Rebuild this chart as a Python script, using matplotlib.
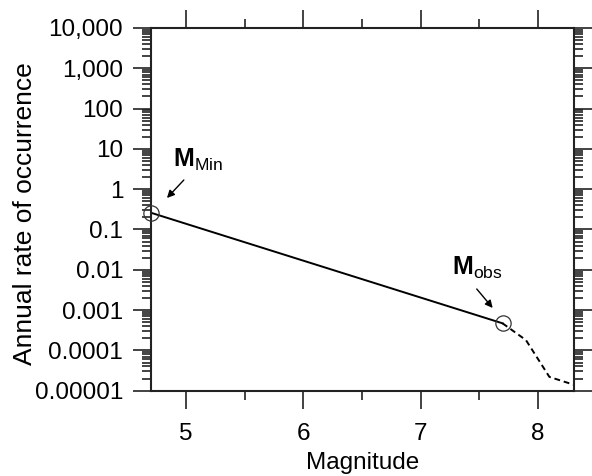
import matplotlib
matplotlib.use("Agg")
import matplotlib.pyplot as plt
from matplotlib.ticker import LogLocator, FixedLocator, FixedFormatter, NullFormatter

plt.rcParams['font.family'] = ['Liberation Sans', 'DejaVu Sans']
plt.rcParams['mathtext.fontset'] = 'custom'
plt.rcParams['mathtext.rm'] = 'Liberation Sans'
plt.rcParams['mathtext.bf'] = 'Liberation Sans:bold'

# Data
solid_mag = [4.70, 7.70]
solid_rate = [0.26, 0.00047]
dash_mag = [7.70, 7.90, 8.10, 8.31]
dash_rate = [0.00047, 0.00018, 0.000022, 0.000014]
circle_mag = [4.70, 7.70]
circle_rate = [0.26, 0.00047]
ytick_vals = [1e-5, 1e-4, 1e-3, 1e-2, 1e-1, 1, 10, 100, 1000, 10000]
ytick_labels = ["0.00001", "0.0001", "0.001", "0.01", "0.1", "1", "10", "100", "1,000", "10,000"]
xtick_major = [5, 6, 7, 8]
xtick_minor = [5.5, 6.5, 7.5]

fig = plt.figure(figsize=(5.92, 4.76), dpi=100)
ax = fig.add_axes([0.2551, 0.1792, 0.9696 - 0.2551, 0.9412 - 0.1792])

ax.plot(solid_mag, solid_rate, color='black', lw=1.4)
ax.plot(dash_mag, dash_rate, color='black', lw=1.4, ls=(0, (3, 2)))
ax.plot(circle_mag, circle_rate, ls='none', marker='o', ms=11, mfc='none',
        mec='#333333', mew=0.9, clip_on=False, zorder=5)

ax.set_yscale('log')
ax.set_xlim(4.7, 8.31)
ax.set_ylim(1e-5, 1e4)

ax.yaxis.set_major_locator(FixedLocator(ytick_vals))
ax.yaxis.set_major_formatter(FixedFormatter(ytick_labels))
ax.yaxis.set_minor_locator(LogLocator(base=10, subs=range(2, 10), numticks=20))
ax.yaxis.set_minor_formatter(NullFormatter())
ax.xaxis.set_major_locator(FixedLocator(xtick_major))
ax.xaxis.set_minor_locator(FixedLocator(xtick_minor))

ax.tick_params(which='both', direction='out', top=True, right=True,
               labeltop=False, labelright=False, width=1.2, color='#222222')
ax.tick_params(which='major', length=13, labelsize=17.5)
ax.tick_params(axis='y', which='major', pad=7)
ax.tick_params(axis='x', which='major', pad=10)
ax.tick_params(which='minor', length=6.5)

for s in ax.spines.values():
    s.set_linewidth(1.5)
    s.set_color('#222222')

ax.set_xlabel("Magnitude", fontsize=17.5, labelpad=5)
ax.set_ylabel("Annual rate of occurrence", fontsize=19)
ax.yaxis.set_label_coords(-0.2695, 0.4876)

ax.annotate("", xy=(4.836, 0.605), xytext=(4.98, 1.69),
            arrowprops=dict(arrowstyle='-|>', color='black', lw=1.0,
                            mutation_scale=11, shrinkA=0, shrinkB=0))
ax.text(4.888, 3.55, r"$\mathbf{M}_{\mathrm{Min}}$", fontsize=18, ha='left', va='baseline')

ax.annotate("", xy=(7.616, 0.00113), xytext=(7.48, 0.00334),
            arrowprops=dict(arrowstyle='-|>', color='black', lw=1.0,
                            mutation_scale=11, shrinkA=0, shrinkB=0))
ax.text(7.267, 0.0074, r"$\mathbf{M}_{\mathrm{obs}}$", fontsize=18, ha='left', va='baseline')

fig.savefig("out.png", dpi=100)
